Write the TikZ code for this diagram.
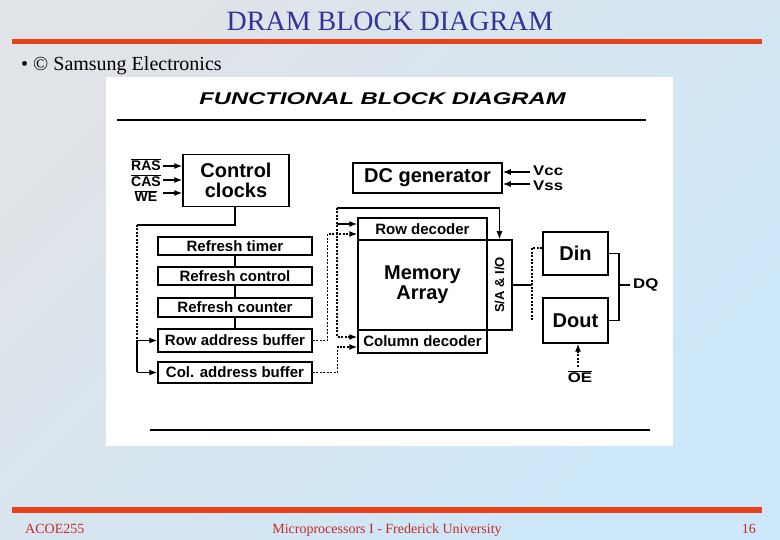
\documentclass[tikz,border=0pt]{standalone}
\usepackage{fontspec}
\usepackage{graphicx}
\setmainfont{Liberation Serif}
\newfontfamily\hv{Liberation Sans}
\usetikzlibrary{arrows.meta,calc}
\definecolor{titleblue}{RGB}{51,51,153}
\definecolor{redline}{RGB}{232,64,24}
\definecolor{footred}{RGB}{200,40,40}
\definecolor{bgone}{RGB}{224,227,231}
\definecolor{bgtwo}{RGB}{204,232,250}
\newcommand\myfs[1]{\fontsize{#1}{#1}\selectfont}
\newcommand\ovl[1]{$\overline{\mbox{#1}}$}
\newcommand\wide[1]{\scalebox{1.2}[1]{#1}}
\begin{document}
\begin{tikzpicture}[x=1pt,y=-1pt,
  blk/.style={draw,line width=1.5pt,inner sep=0pt,font=\hv\bfseries\myfs{15},align=center},
  big/.style={font=\hv\bfseries\myfs{20}},
  ln/.style={line width=1.2pt},
  dsh/.style={dash pattern=on 2pt off 1.5pt},
  tip/.style={-{Latex[length=8pt,width=6pt]}},
  lab/.style={font=\hv\bfseries\myfs{14},inner sep=0pt}]
\useasboundingbox (0,0) rectangle (780,540);
\shade[top color=bgone,bottom color=bgtwo,shading angle=45] (0,0) rectangle (780,540);
% slide frame
\node[font=\myfs{28},text=titleblue,inner sep=0pt] (title) at (390,21) {DRAM BLOCK DIAGRAM};
\fill[redline] (12,39) rectangle (762,44.5);
\node[anchor=base west,font=\myfs{20},inner sep=0pt] (bul) at (21,71) {\textbullet\ \textcopyright\ Samsung Electronics};
\fill[redline] (12,507) rectangle (762,513);
\node[anchor=base west,font=\myfs{14},text=footred,inner sep=0pt] (f1) at (25,533) {ACOE255};
\node[anchor=base,font=\myfs{14},text=footred,inner sep=0pt] (f2) at (387,533) {Microprocessors I - Frederick University};
\node[anchor=base east,font=\myfs{14},text=footred,inner sep=0pt] (f3) at (756,533) {16};
% picture panel
\fill[white] (106,77) rectangle (673,446);
\node[font=\hv\bfseries\itshape\myfs{17},inner sep=0pt] (fh) at (382.5,99) {\scalebox{1.4}[1]{FUNCTIONAL BLOCK DIAGRAM}};
\draw[ln] (117,120) -- (646,120);
\draw[ln] (150,430) -- (650,430);
% blocks
\node[blk,big,minimum width=106,minimum height=52] (cc) at (236,180.5) {Control\\clocks};
\node[blk,big,minimum width=149,minimum height=30] (dc) at (427.5,178) {DC generator};
\node[blk,minimum width=129,minimum height=22] (rd) at (422.5,229) {Row decoder};
\node[blk,big,minimum width=129,minimum height=90] (ma) at (422.5,285) {Memory\\Array};
\node[blk,minimum width=129,minimum height=23] (cd) at (422.5,341.5) {Column decoder};
\node[blk,minimum width=25,minimum height=90] (sa) at (499.5,285) {};
\node[rotate=90,font=\hv\bfseries\myfs{13},inner sep=0pt] (satext) at (sa) {S/A \& I/O};
\node[blk,big,minimum width=65,minimum height=43] (din) at (575.5,253.5) {Din};
\node[blk,big,minimum width=65,minimum height=45] (dout) at (575.5,320.5) {Dout};
\node[blk,minimum width=154,minimum height=18] (rt) at (235,246) {Refresh timer};
\node[blk,minimum width=154,minimum height=18] (rc) at (235,276) {Refresh control};
\node[blk,minimum width=154,minimum height=19] (rcn) at (235,307.5) {Refresh counter};
\node[blk,minimum width=154,minimum height=23] (rab) at (235,340.5) {Row address buffer};
\node[blk,minimum width=154,minimum height=21] (cab) at (235,372.5) {Col. address buffer};
% input labels
\node[lab] (ras) at (146,165) {\ovl{RAS}};
\node[lab] (cas) at (146,181) {\ovl{CAS}};
\node[lab] (we) at (146,196) {\ovl{WE}};
\coordinate (rasA) at (163,166);
\coordinate (casA) at (163,180);
\coordinate (weA) at (163,193);
\draw[ln,tip] (rasA) -- (rasA -| cc.west);
\draw[ln,tip] (casA) -- (casA -| cc.west);
\draw[ln,tip] (weA) -- (weA -| cc.west);
\node[lab,anchor=west] (vcc) at (533,171) {\wide{Vcc}};
\node[lab,anchor=west] (vss) at (533,186) {\wide{Vss}};
\coordinate (vccA) at (530,172);
\coordinate (vssA) at (530,184);
\draw[ln,tip] (vccA) -- (vccA -| dc.east);
\draw[ln,tip] (vssA) -- (vssA -| dc.east);
% control clocks to address buffers
\coordinate (j1) at (235,225);
\coordinate (lft) at (137,225);
\draw[ln] (cc.south -| j1) -- (j1) -- (lft);
\draw[ln,dsh] (lft) -- (lft |- rab.west);
\draw[ln] (lft |- rab.west) -- (lft |- cab.west);
\draw[ln,tip] (lft |- rab.west) -- (rab.west);
\draw[ln,tip] (lft |- cab.west) -- (cab.west);
% refresh chain
\draw[ln] (rt.south) -- (rc.north);
\draw[ln] (rc.south) -- (rcn.north);
\draw[ln] (rcn.south) -- (rab.north);
% address buffers to decoders
\draw[ln,dsh,tip] (rab.east) -- ++(15,0) |- ($(rd.west)+(0,5)$);
\draw[ln,dsh,tip] (cab.east) -- ++(25,0) |- ($(cd.west)+(0,5.5)$);
% control line to decoders and sense amps
\coordinate (tc) at (337,208);
\draw[ln,tip] (tc) -| (sa.north);
\draw[ln,dsh,tip] (tc) |- ($(cd.west)+(0,-4.5)$);
\draw[ln,tip] (tc |- {$(rd.west)+(0,-5)$}) -- ($(rd.west)+(0,-5)$);
% data path
\coordinate (bus) at (532,285);
\draw[ln] (sa.east) -- (bus);
\draw[ln,dsh] (bus |- dout.west) -- (bus |- {$(din.west)+(0,-5.5)$}) -- ($(din.west)+(0,-5.5)$);
\coordinate (dq) at (619,285);
\draw[ln] (din.east) -- (din.east -| dq) -- (dout.east -| dq) -- (dout.east);
\draw[ln] (dq) -- ++(11,0);
\node[lab,anchor=west] (dql) at (633,285) {\wide{DQ}};
\node[lab] (oe) at (580,377) {\ovl{\wide{OE}}};
\coordinate (oeA) at (578,367);
\draw[ln,dsh,tip] (oeA) -- (oeA |- dout.south);
\end{tikzpicture}
\end{document}
